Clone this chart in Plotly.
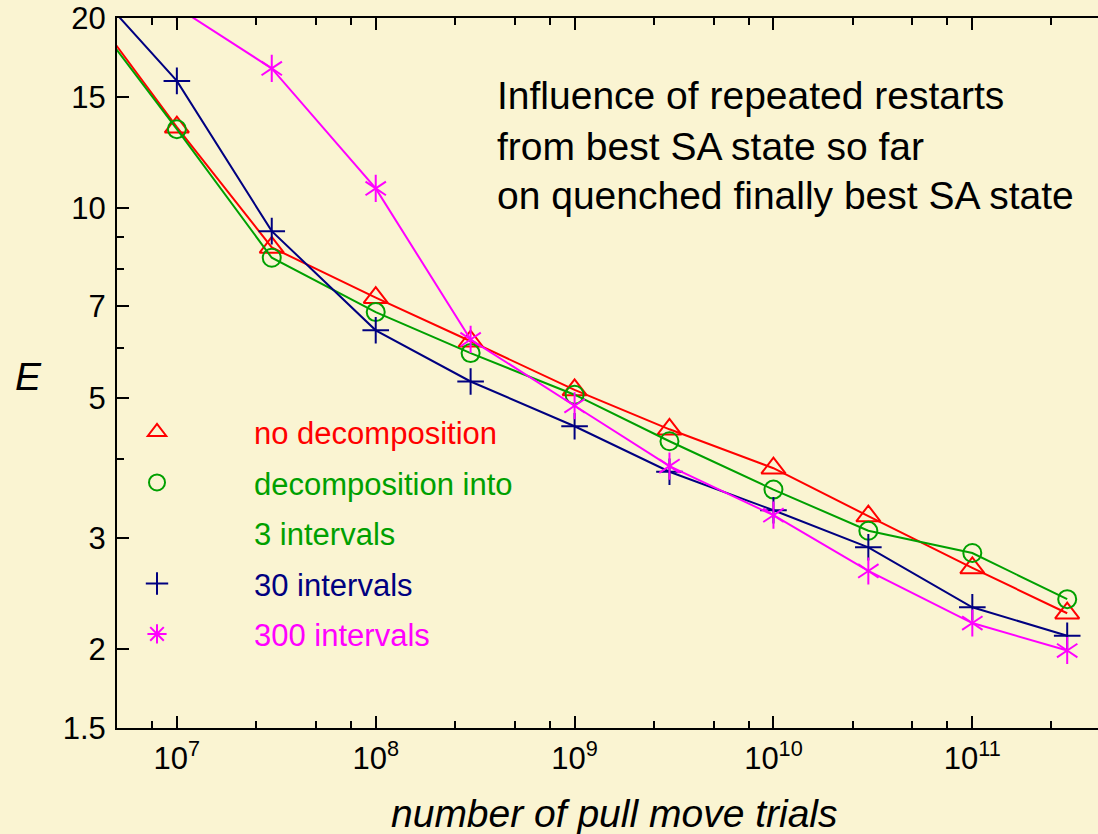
import math
import plotly.graph_objects as go

# ---------------- data ----------------
trials = [3e6, 1e7, 3e7, 1e8, 3e8, 1e9, 3e9, 1e10, 3e10, 1e11, 3e11]
e_no_decomp = [22.4, 13.43, 8.66, 7.21, 6.15, 5.15, 4.46, 3.87, 3.25, 2.69, 2.28]
e_3_int = [22.0, 13.33, 8.34, 6.84, 5.89, 5.06, 4.27, 3.58, 3.08, 2.84, 2.40]
e_30_int = [24.2, 15.9, 9.19, 6.40, 5.31, 4.51, 3.82, 3.32, 2.90, 2.33, 2.10]
e_300_int = [None, 20.8, 16.64, 10.74, 6.19, 4.86, 3.90, 3.26, 2.66, 2.20, 1.99]

x_tick_vals = [1e7, 1e8, 1e9, 1e10, 1e11]
x_tick_text = ["10<sup>7</sup>", "10<sup>8</sup>", "10<sup>9</sup>", "10<sup>10</sup>", "10<sup>11</sup>"]
x_minor_vals = [2.5e6, 5e6, 7.5e6, 2.5e7, 5e7, 7.5e7, 2.5e8, 5e8, 7.5e8,
                2.5e9, 5e9, 7.5e9, 2.5e10, 5e10, 7.5e10, 2.5e11, 5e11, 7.5e11]
y_tick_vals = [1.5, 2, 3, 5, 7, 10, 15, 20]
y_tick_text = ["1.5", "2", "3", "5", "7", "10", "15", "20"]
y_minor_vals = [4, 6, 8, 9]

title_lines = ["Influence of repeated restarts",
               "from best SA state so far",
               "on quenched finally best SA state"]

RED = "#ff0000"
GREEN = "#00a000"
BLUE = "#000080"
MAGENTA = "#ff00ff"
BG = "#faf4d2"
CLEAR = "rgba(0,0,0,0)"
FONT = "Liberation Sans, Arial, sans-serif"

fig = go.Figure()

series = [
    (e_no_decomp, RED, ["triangle-up-open"], 21),
    (e_3_int, GREEN, ["circle-open"], 18),
    (e_30_int, BLUE, ["cross-thin"], 19),
    (e_300_int, MAGENTA, ["y-up", "y-down"], 17),
]

for vals, col, syms, sz in series:
    fig.add_trace(go.Scatter(x=trials, y=vals, mode="lines",
                             line=dict(color=col, width=2),
                             showlegend=False, hoverinfo="skip"))
    for s in syms:
        fig.add_trace(go.Scatter(x=trials, y=vals, mode="markers",
                                 marker=dict(symbol=s, size=sz, color=col,
                                             line=dict(color=col, width=2)),
                                 showlegend=False, cliponaxis=True))

# legend-only entries
legend_entries = [
    ("no decomposition", RED, "triangle-up-open", True),
    ("decomposition into", GREEN, "circle-open", True),
    ("3 intervals", GREEN, "circle-open", False),
    ("30 intervals", BLUE, "cross-thin", True),
    ("300 intervals", MAGENTA, "asterisk-open", True),
]
for i, (name, col, sym, vis) in enumerate(legend_entries):
    mcol = col if vis else CLEAR
    fig.add_trace(go.Scatter(
        x=[None], y=[None], mode="markers",
        name='<span style="color:%s">%s</span>' % (col, name),
        legendgroup="g%d" % i,
        marker=dict(symbol=sym, size=16, color=mcol,
                    line=dict(color=mcol, width=2 if vis else 0)),
        showlegend=True))

axis_common = dict(
    showline=True, linecolor="black", linewidth=2,
    ticks="inside", ticklen=12, tickwidth=2, tickcolor="black",
    showgrid=False, zeroline=False,
    tickfont=dict(family=FONT, size=31, color="black"),
)

fig.update_layout(
    width=1098, height=834,
    margin=dict(l=117, r=0, t=18, b=106),
    paper_bgcolor=BG, plot_bgcolor=BG,
    font=dict(family=FONT, color="black"),
    xaxis=dict(type="log", range=[math.log10(5e6), 11.632],
               tickmode="array", tickvals=x_tick_vals, ticktext=x_tick_text,
               mirror="ticks", ticklabelstandoff=2,
               minor=dict(tickmode="array", tickvals=x_minor_vals, ticks="inside",
                          ticklen=7, tickwidth=2, tickcolor="black", showgrid=False),
               **axis_common),
    yaxis=dict(type="log", range=[math.log10(1.5) - 1e-6, math.log10(20) + 1e-6],
               tickmode="array", tickvals=y_tick_vals, ticktext=y_tick_text,
               mirror=False, ticklabelstandoff=3,
               minor=dict(tickmode="array", tickvals=y_minor_vals, ticks="inside",
                          ticklen=7, tickwidth=2, tickcolor="black", showgrid=False),
               **axis_common),
    legend=dict(x=-0.0581, y=0.4545, xanchor="left", yanchor="top",
                bgcolor="rgba(0,0,0,0)", borderwidth=0,
                font=dict(family=FONT, size=31),
                itemwidth=184, tracegroupgap=7.2, traceorder="grouped"),
)

# text block
title_y_px = [96, 146, 195]
for line, ypx in zip(title_lines, title_y_px):
    fig.add_annotation(text=line, xref="paper", yref="paper",
                       x=(495 - 117) / 981, y=(728 - ypx) / 710,
                       xanchor="left", yanchor="middle", showarrow=False,
                       font=dict(family=FONT, size=39, color="black"))

fig.add_annotation(text="<i>E</i>", xref="paper", yref="paper",
                   x=(28 - 117) / 981, y=(728 - 376) / 710,
                   xanchor="center", yanchor="middle", showarrow=False,
                   font=dict(family=FONT, size=39, color="black"))

fig.add_annotation(text="<i>number of pull move trials</i>", xref="paper", yref="paper",
                   x=(614 - 117) / 981, y=(728 - 813) / 710,
                   xanchor="center", yanchor="middle", showarrow=False,
                   font=dict(family=FONT, size=39, color="black"))

fig.write_html("out.html")
